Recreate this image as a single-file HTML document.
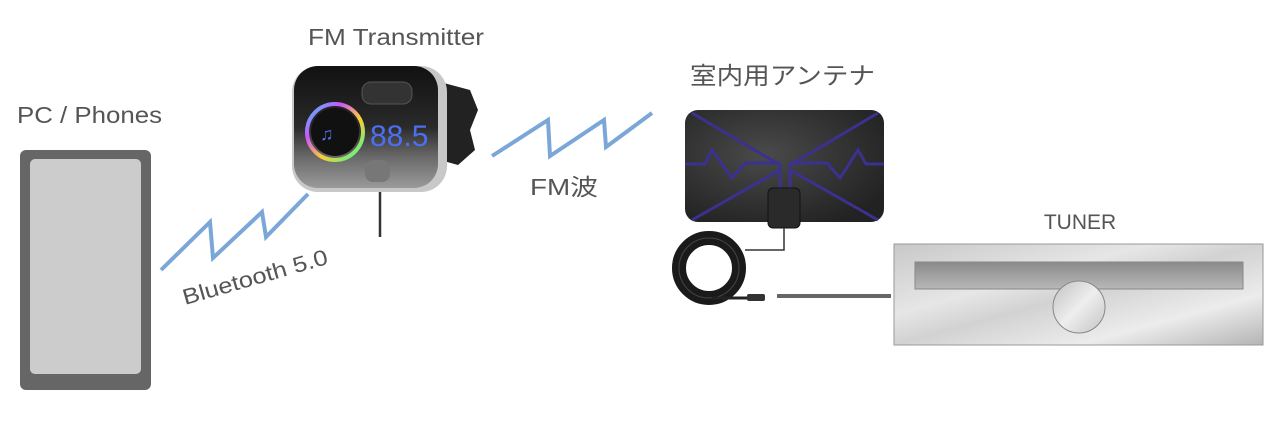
<!DOCTYPE html>
<html><head><meta charset="utf-8"><style>
html,body{margin:0;padding:0;background:#fff;}
svg{display:block}
text{font-family:"Liberation Sans","Noto Sans CJK JP",sans-serif;fill:#555;}
</style></head><body>
<svg width="1280" height="435" viewBox="0 0 1280 435" xmlns="http://www.w3.org/2000/svg">
<defs>
<linearGradient id="tg" x1="0" y1="0" x2="1" y2="1">
<stop offset="0" stop-color="#c8c8c8"/><stop offset="0.35" stop-color="#e6e6e6"/><stop offset="0.5" stop-color="#d2d2d2"/><stop offset="0.75" stop-color="#ececec"/><stop offset="1" stop-color="#b4b4b4"/>
</linearGradient>
<linearGradient id="sg" x1="0" y1="0" x2="0" y2="1"><stop offset="0" stop-color="#8a8a8a"/><stop offset="1" stop-color="#b8b8b8"/></linearGradient>
<linearGradient id="cg" x1="0" y1="0" x2="1" y2="1"><stop offset="0" stop-color="#c0c0c0"/><stop offset="0.5" stop-color="#eee"/><stop offset="1" stop-color="#c4c4c4"/></linearGradient>
<radialGradient id="ag" cx="0.4" cy="0.4" r="0.7"><stop offset="0" stop-color="#4a4a4a"/><stop offset="1" stop-color="#222"/></radialGradient>
<linearGradient id="ring" x1="0" y1="0" x2="1" y2="1"><stop offset="0" stop-color="#3cf"/><stop offset="0.3" stop-color="#c5f"/><stop offset="0.6" stop-color="#fc3"/><stop offset="1" stop-color="#3f9"/></linearGradient>
<linearGradient id="body" x1="0" y1="0" x2="0" y2="1"><stop offset="0" stop-color="#111"/><stop offset="0.5" stop-color="#2a2a2a"/><stop offset="0.75" stop-color="#6a6a6a"/><stop offset="1" stop-color="#9a9a9a"/></linearGradient>
</defs>

<text x="17" y="123" font-size="23" textLength="145" lengthAdjust="spacingAndGlyphs">PC / Phones</text>
<rect x="20" y="150" width="131" height="240" rx="6" fill="#666"/>
<rect x="30" y="159" width="111" height="215" rx="5" fill="#ccc"/>

<polyline points="161,270 210,222 213,258 262,212 266,237 308,194" fill="none" stroke="#7ba7d8" stroke-width="4"/>
<text x="0" y="0" font-size="22" textLength="150" lengthAdjust="spacingAndGlyphs" transform="translate(185,305) rotate(-16)">Bluetooth 5.0</text>

<text x="308" y="45" font-size="23" textLength="176" lengthAdjust="spacingAndGlyphs">FM Transmitter</text>
<!-- transmitter -->
<path d="M440,82 L470,90 L478,110 L470,130 L475,150 L458,165 L440,160 Z" fill="#222"/>
<line x1="380" y1="188" x2="380" y2="237" stroke="#333" stroke-width="2.5"/>
<rect x="292" y="66" width="155" height="126" rx="26" fill="#c8c8c8"/>
<rect x="294" y="66" width="144" height="122" rx="24" fill="url(#body)"/>
<circle cx="335" cy="132" r="28" fill="none" stroke="url(#ring)" stroke-width="4"/>
<circle cx="335" cy="132" r="24" fill="#111"/>
<text x="320" y="140" font-size="18" style="fill:#4a6fe0">♫</text>
<text x="370" y="146" font-size="30" style="fill:#4b6ff0;font-family:'Liberation Sans Narrow','Liberation Sans',sans-serif">88.5</text>
<rect x="362" y="82" width="50" height="22" rx="9" fill="#333" stroke="#555"/>
<rect x="365" y="160" width="25" height="22" rx="8" fill="#777"/>

<polyline points="492,156 548,120 550,156 604,120 606,147 652,113" fill="none" stroke="#7ba7d8" stroke-width="4"/>
<text x="530" y="195" font-size="23" textLength="68" lengthAdjust="spacingAndGlyphs">FM波</text>

<text x="690" y="84" font-size="24" textLength="185" lengthAdjust="spacingAndGlyphs">室内用アンテナ</text>
<!-- antenna -->
<rect x="685" y="110" width="199" height="112" rx="13" fill="url(#ag)"/>
<g fill="none" stroke="#3a3190" stroke-width="3">
<path d="M692,113 L780,165 L780,222 M878,113 L790,165 L790,222"/>
<path d="M685,164 L705,164 L712,150 L732,178 L745,163 L780,163 M884,164 L866,164 L858,150 L840,178 L827,163 L790,163"/>
<path d="M692,220 L780,170 M878,220 L790,170"/>
</g>
<rect x="768" y="188" width="32" height="40" rx="5" fill="#2a2a2a" stroke="#111"/>
<polyline points="784,228 784,250 745,250" fill="none" stroke="#333" stroke-width="1.5"/>
<circle cx="709" cy="268" r="30" fill="none" stroke="#1a1a1a" stroke-width="14"/>
<circle cx="709" cy="268" r="30" fill="none" stroke="#444" stroke-width="1"/>
<path d="M712,298 L748,298" stroke="#222" stroke-width="3"/>
<rect x="747" y="294" width="18" height="7" rx="2" fill="#333"/>
<line x1="777" y1="296" x2="891" y2="296" stroke="#666" stroke-width="4"/>

<text x="1080" y="229" font-size="21" text-anchor="middle">TUNER</text>
<rect x="894" y="244" width="369" height="101" fill="url(#tg)" stroke="#999" stroke-width="1"/>
<rect x="915" y="262" width="328" height="27" fill="url(#sg)" stroke="#888" stroke-width="1"/>
<circle cx="1079" cy="307" r="26" fill="url(#cg)" stroke="#888" stroke-width="1"/>
</svg>
</body></html>
